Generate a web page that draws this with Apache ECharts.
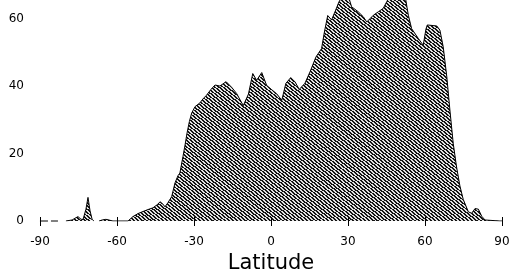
<!DOCTYPE html>
<html><head><meta charset="utf-8">
<script src="https://cdn.jsdelivr.net/npm/echarts@6/dist/echarts.min.js"></script>
<style>html,body{margin:0;padding:0;background:#fff}#c{width:511px;height:272px}</style>
</head><body><div id="c"></div>
<script>
// Latitude (deg) and value; null marks a gap in the record
const latitudes = [-79.9,-77.5,-76.4,-75.2,-74.0,-73.2,-72.1,-71.3,-70.5,-69.7,-69.0,-68.0,
  -67.0,-65.8,-64.3,-62.7,-61.6,-55.7,-53.8,-51.8,-49.9,-47.9,-46.0,-44.4,-43.2,-42.1,-41.3,-40.1,
  -38.7,-37.4,-36.2,-35.5,-34.3,-33.5,-32.7,-31.8,-30.9,-29.6,-27.7,-26.5,-25.1,-23.4,-21.8,-19.9,
  -17.5,-15.3,-13.4,-12.1,-10.8,-8.8,-7.1,-5.6,-3.6,-1.7,0.3,2.2,4.2,5.8,7.7,9.4,11.0,13.2,15.2,
  17.5,19.7,20.8,22.1,23.6,25.2,26.5,28.2,30.0,31.4,34.0,36.0,37.3,39.9,41.8,43.7,45.1,46.4,49.5,
  52.2,53.5,54.8,57.4,59.3,60.4,60.9,64.6,65.8,67.1,68.5,69.7,71.0,72.3,73.6,74.9,76.9,78.2,79.5,
  80.8,82.1,83.4,89.2,90];
const values = [0,0.3,0.8,1.3,0.5,0.5,3.5,7.0,3.0,0.5,0,null,
  0,0.3,0.5,0.2,0,0,1.3,2.2,2.8,3.4,3.9,4.8,5.7,5.0,4.2,5.5,
  7.2,11.3,13.5,14.2,19.1,22.5,26.1,29.5,32,33.9,35,36.2,37.3,39,40.3,40,
  41.3,39.6,37.8,36,34.2,37.6,43.7,41.7,44,40.2,38.9,37.7,35.8,40.8,42.5,41.2,39,40.8,44.2,
  48.6,51.1,56,60.9,59.6,62.5,65,67,67,63.5,62,60.5,59,61,62,63,65,67,67,
  67,61,57,54.1,52.1,57,58.1,57.8,56.6,51.6,42.7,32.9,23,16,10.4,6.4,2.7,2.3,3.7,
  3.5,1.4,0.3,0,0];
// dashed baseline stub left of the axis start
const stubLat = [-94.3, -83.0];
const stubVal = [0, 0];
const xTicks = [-90,-60,-30,0,30,60,90];
const yTicks = [0,20,40,60];

// hatch pattern
const pc = document.createElement('canvas');
pc.width = 520; pc.height = 280;
const pctx = pc.getContext('2d');
const img = pctx.createImageData(520, 280);
for (let y = 0; y < 280; y++) for (let x = 0; x < 520; x++) {
  let v = (y - 0.8 * x) % 3.3; if (v < 0) v += 3.3;
  const c = v < 1.7 ? 20 : 225;
  const i = (y * 520 + x) * 4;
  img.data[i] = img.data[i+1] = img.data[i+2] = c; img.data[i+3] = 255;
}
pctx.putImageData(img, 0, 0);

const chart = echarts.init(document.getElementById('c'), null, {renderer: 'canvas'});
const font = 'DejaVu Sans';
chart.setOption({
  animation: false,
  grid: {left: 40, right: 9, top: 0, bottom: 51, containLabel: false, outerBoundsMode: 'none'},
  xAxis: [{
    type: 'value', min: -90, max: 90, interval: 30,
    axisLine: {show: false},
    axisTick: {show: true, length: 5, lineStyle: {color: '#000'}},
    splitLine: {show: false},
    axisLabel: {margin: 15, color: '#000', fontFamily: font, fontSize: 12,
      formatter: v => xTicks.includes(v) ? String(v) : ''},
    name: 'Latitude', nameLocation: 'middle', nameGap: 29,
    nameTextStyle: {fontFamily: font, fontSize: 21, color: '#000'}
  }, {
    type: 'value', min: -90, max: 90, interval: 30, position: 'bottom',
    axisLine: {show: false},
    axisTick: {show: true, inside: true, length: 4, lineStyle: {color: '#000'}},
    axisLabel: {show: false}, splitLine: {show: false}, z: 10
  }],
  yAxis: {
    type: 'value', min: 0, max: 65.5, interval: 20,
    axisLine: {show: false}, axisTick: {show: false}, splitLine: {show: false},
    axisLabel: {margin: 16, color: '#000', fontFamily: font, fontSize: 12,
      formatter: v => yTicks.includes(v) ? String(v) : ''}
  },
  series: [{
    type: 'line', symbol: 'none', connectNulls: false,
    data: latitudes.map((l, i) => [l, values[i]]),
    lineStyle: {color: '#000', width: 1},
    areaStyle: {color: {image: pc, repeat: 'repeat'}, opacity: 1}
  }, {
    type: 'line', symbol: 'none', clip: false,
    data: stubLat.map((l, i) => [l, stubVal[i]]),
    lineStyle: {color: '#000', width: 1, type: [8, 3]}
  }]
});
</script></body></html>
